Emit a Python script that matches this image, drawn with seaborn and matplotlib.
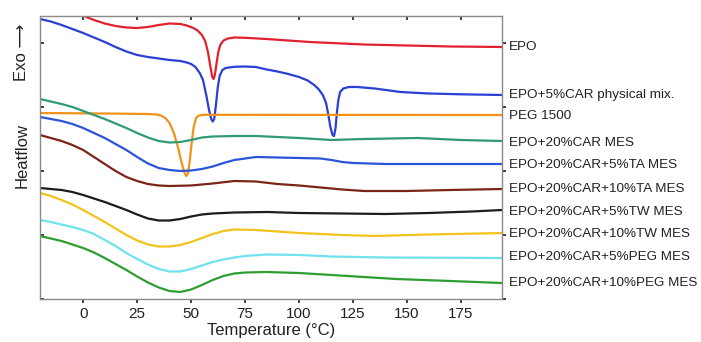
import matplotlib
matplotlib.use('Agg')
import matplotlib.pyplot as plt
import matplotlib.transforms as mtransforms
import matplotlib.lines as mlines
import seaborn as sns
import pandas as pd

# ---------------- data ----------------
names = ["EPO", "EPO+5%CAR physical mix.", "PEG 1500", "EPO+20%CAR MES",
         "EPO+20%CAR+5%TA MES", "EPO+20%CAR+10%TA MES", "EPO+20%CAR+5%TW MES",
         "EPO+20%CAR+10%TW MES", "EPO+20%CAR+5%PEG MES", "EPO+20%CAR+10%PEG MES"]

colors = ["#e0222e", "#2a3fd4", "#f29219", "#2e9a78", "#2a55d8",
          "#7b2418", "#1c1c1c", "#f2c31c", "#6fe2ee", "#2f9e32"]

t_epo = [-1, 1.4, 5, 10, 15, 20, 25, 30, 35, 40, 45, 48, 51, 53, 55, 56.5, 57.8, 58.8, 59.8,
         60.4, 61, 61.8, 62.6, 63.5, 65, 67, 70, 75, 85, 95, 105, 115, 130, 150, 170, 194]
h_epo = [287, 282, 279, 275.5, 273, 271.5, 271, 272, 274, 275.5, 275, 273.5, 271, 268.5, 264,
         258, 247, 234, 222, 220, 224, 236, 247, 254, 258.5, 260.5, 261.5, 261.2, 260, 258.5,
         257, 256, 254.5, 253.5, 252.5, 252]

t_mix = [-20, -15, -10, -5, 0, 5, 10, 15, 20, 25, 30, 35, 40, 45, 48, 50, 52, 54, 55.5, 57,
         58.3, 59.3, 60, 60.7, 61.5, 62.3, 63.2, 64.5, 66, 70, 75, 80, 85, 90, 95, 100, 104,
         107, 109, 111, 112.5, 113.5, 114.5, 115.5, 116.2, 116.9, 117.5, 118.2, 119, 120.5,
         123, 127, 135, 147, 160, 175, 194]
h_mix = [280, 277.5, 274, 270, 266, 261.5, 257, 252, 247.5, 244, 242, 240.5, 239, 238, 236.5,
         235, 232, 226, 219, 204, 189, 180, 177.5, 180, 194, 211, 223, 229, 231, 232.2, 232.5,
         232, 229.5, 227.5, 225, 222, 218.5, 214, 210, 204, 196, 185, 172, 164, 163, 171, 186,
         199, 207, 210.5, 212, 212, 210.5, 207, 205.5, 204.7, 204]

t_peg = [-20, 10, 30, 34, 36, 38, 40, 42, 44, 45.5, 46.8, 47.7, 48.5, 49.3, 50.2, 51.2, 52.3,
         53.5, 56, 194]
h_peg = [186, 185.5, 185, 184.5, 183.5, 181, 176, 166, 151, 137, 127, 123, 125, 137, 155, 172,
         181, 183.5, 184.2, 184]

t_mes = [-20, -10, -5, 0, 5, 10, 15, 20, 25, 30, 35, 40, 45, 50, 55, 60, 70, 80, 100, 115,
         130, 155, 175, 194]
h_mes = [200, 195, 192, 188, 184, 180, 175.5, 171, 166, 161.5, 158, 156.5, 157, 159, 161.5,
         162.5, 163, 163, 161, 159, 160, 161, 159, 158]

t_ta5 = [-20, -15, -10, -5, 0, 5, 10, 15, 20, 25, 30, 35, 40, 45, 50, 55, 60, 65, 70, 75, 80,
         90, 100, 110, 115, 120, 125, 140, 194]
h_ta5 = [182, 180, 178, 175, 171, 166, 161, 155, 149, 142, 135.5, 131, 129, 128, 128.5, 130,
         132.5, 136, 139, 140.5, 142, 141.5, 141, 140.5, 139, 137, 136, 135, 135]

t_ta10 = [-20, -15, -10, -5, 0, 5, 10, 15, 20, 25, 30, 35, 40, 50, 60, 70, 80, 90, 100, 110,
          120, 130, 150, 170, 194]
h_ta10 = [164, 161, 158, 154, 149, 142, 135, 128, 122, 118, 115, 113.5, 113, 113.5, 115.5, 118,
          117.5, 115, 113.5, 111.5, 109.5, 108, 108, 109, 110]

t_tw5 = [-20, -10, -5, 0, 5, 10, 15, 20, 25, 30, 35, 40, 45, 50, 55, 60, 70, 85, 100, 120,
         140, 160, 180, 194]
h_tw5 = [111, 109, 107, 104, 100.5, 97, 93, 89, 84.5, 80.5, 78.5, 78.5, 80, 82.5, 84.5, 85.5,
         86.5, 87, 86, 85.5, 85, 86, 87.5, 89]

t_tw10 = [-20, -15, -10, -5, 0, 5, 10, 15, 20, 25, 30, 35, 40, 45, 50, 55, 60, 65, 70, 80,
          100, 120, 135, 160, 194]
h_tw10 = [106, 103, 99, 94.5, 89, 83, 77, 70.5, 64, 58.5, 54.5, 52.5, 52.5, 54, 57, 61, 65,
          68, 69.5, 69, 66, 64, 63, 64.5, 66]

t_pg5 = [-20, -15, -10, -5, 0, 5, 10, 15, 20, 25, 30, 35, 40, 45, 50, 55, 60, 65, 70, 75, 85,
         100, 115, 140, 194]
h_pg5 = [79, 77, 74.5, 72, 69, 65, 59, 53, 46, 40, 34.5, 30, 27.5, 27.5, 30, 33.5, 37, 39.5,
         41.5, 43, 44.5, 44, 42.5, 41.5, 41]

t_pg10 = [-20, -15, -10, -5, 0, 5, 10, 15, 20, 25, 30, 35, 40, 45, 50, 55, 60, 65, 70, 75, 85,
          100, 115, 130, 145, 170, 194]
h_pg10 = [63, 60.5, 58, 54.5, 51, 46.5, 41, 35, 29, 22.5, 16.5, 11.5, 8, 7, 9.5, 14, 19, 23,
          25.5, 26.5, 27, 26, 24, 22, 20, 18, 16]

temps = [t_epo, t_mix, t_peg, t_mes, t_ta5, t_ta10, t_tw5, t_tw10, t_pg5, t_pg10]
flows = [h_epo, h_mix, h_peg, h_mes, h_ta5, h_ta10, h_tw5, h_tw10, h_pg5, h_pg10]

label_y = [252, 204, 183, 156, 134, 110, 87, 65, 42, 16]

x_ticks = [0, 25, 50, 75, 100, 125, 150, 175]
y_ticks = [0, 64, 128, 192, 256]

# ---------------- plot ----------------
sns.set_theme(style="white")
plt.rcParams['font.family'] = ['Liberation Sans', 'DejaVu Sans']

fig = plt.figure(figsize=(7.01, 3.42), dpi=100)
ax = fig.add_axes([40 / 701, 43 / 342, 462 / 701, 283 / 342])

for name, T, H, c in zip(names, temps, flows, colors):
    df = pd.DataFrame({"T": T, "H": H})
    sns.lineplot(data=df, x="T", y="H", color=c, linewidth=1.6, ax=ax,
                 estimator=None, sort=False)

ax.set_xlim(-20, 194)
ax.set_ylim(0, 283)
ax.set_xticks(x_ticks)
ax.set_yticks(y_ticks)
ax.set_yticklabels([])
ax.tick_params(axis='x', labelsize=11, labelcolor='#222222', direction='out', length=3,
               top=True, bottom=True, pad=3)
ax.tick_params(axis='y', left=True, right=True, direction='in', length=3)
for t in ax.xaxis.get_major_ticks():
    t.tick1line.set_color('#808080')
    t.tick2line.set_color('#808080')
    t.tick2line.set_marker(mlines.TICKDOWN)   # top ticks point inward
for t in ax.yaxis.get_major_ticks():
    t.tick1line.set_color('#808080')
    t.tick2line.set_color('#808080')
    t.tick2line.set_marker(mlines.TICKRIGHT)  # right ticks point outward
for s in ax.spines.values():
    s.set_color('#8a8a8a')
    s.set_linewidth(1.0)

ax.set_xlabel("Temperature (°C)", fontsize=12, color='#222222', labelpad=1)
ax.set_ylabel("")

trans = mtransforms.blended_transform_factory(ax.transAxes, ax.transData)
for name, y in zip(names, label_y):
    ax.text(1.015, y, name, transform=trans, fontsize=9.7, va='center', ha='left',
            color='#222222', clip_on=False)

fig.text(22 / 701, 1 - 155 / 342, "Heatflow", rotation=90, fontsize=12,
         ha='center', va='center', color='#222222')
fig.text(22 / 701, 1 - 52 / 342, "Exo \u27f6", rotation=90, fontsize=12,
         ha='center', va='center', color='#222222')

fig.savefig("out.png", dpi=100)
